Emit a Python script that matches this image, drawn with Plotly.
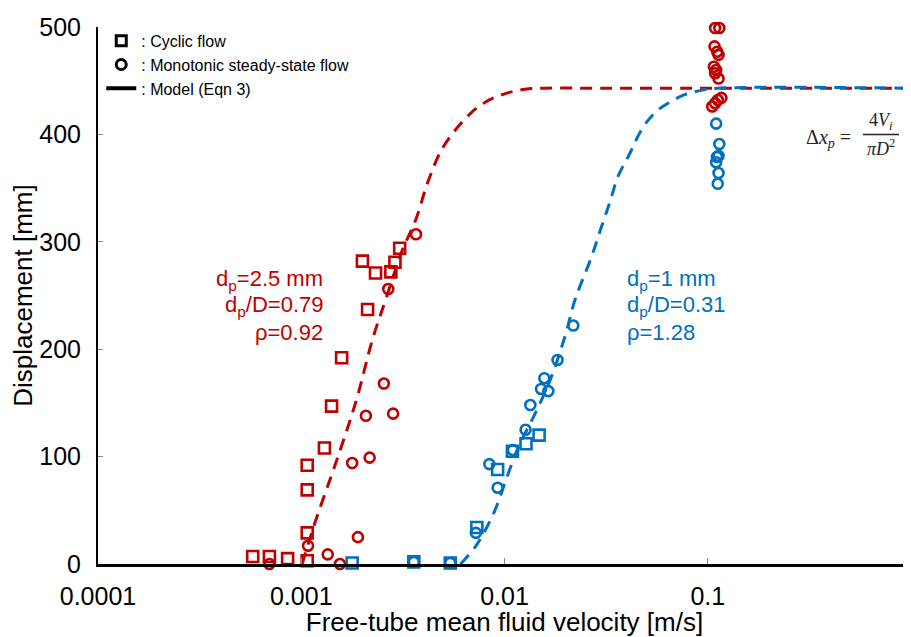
import plotly.graph_objects as go

RED = "#C00000"
BLUE = "#0070C0"

# ---- dp = 2.5 mm (red) ----
red_cyclic_x = [0.00200, 0.00305, 0.00289, 0.00232, 0.00276, 0.00212, 0.00158, 0.00141,
                0.00130, 0.00107, 0.00107, 0.00107, 0.00107, 0.000577, 0.000697, 0.000857]
red_cyclic_y = [282, 294, 281, 271, 272, 237, 192, 147, 108, 92, 69, 29, 3, 7, 7, 5]

red_mono_x = [0.00367, 0.00268, 0.00255, 0.00283, 0.00208, 0.00217, 0.00178, 0.00108,
              0.00190, 0.00135, 0.000697, 0.00155,
              0.1087, 0.1140, 0.1080, 0.1113, 0.1130, 0.1072, 0.1100, 0.1087, 0.1130,
              0.1167, 0.1121, 0.1087, 0.1052]
red_mono_y = [307, 256, 168, 140, 138, 99, 94, 17, 25, 9, 0, 0,
              499, 499, 482, 477, 474, 463, 460, 457, 452, 434, 432, 429, 426]

red_model_x = [0.00101, 0.00119, 0.00140, 0.001626, 0.00189, 0.00224, 0.00260, 0.00314,
               0.00365, 0.00424, 0.00502, 0.00667, 0.00804, 0.0101, 0.01264, 0.01585,
               0.03, 0.1, 1.0]
red_model_y = [0, 43, 81, 117, 156, 209, 246, 292, 320, 358, 389, 418, 430, 438, 442,
               443, 443, 443, 443]

red_labels = ["d<sub>p</sub>=2.5 mm", "d<sub>p</sub>/D=0.79", "ρ=0.92"]

# ---- dp = 1 mm (blue) ----
blue_cyclic_x = [0.0148, 0.01276, 0.01094, 0.00925, 0.00731, 0.00541, 0.00358, 0.00178]
blue_cyclic_y = [120, 112, 105, 88, 34, 1, 2, 1]

blue_mono_x = [0.0218, 0.01824, 0.0157, 0.01513, 0.01644, 0.0134, 0.0127, 0.0110, 0.00842,
               0.00925, 0.00723, 0.00541, 0.00358,
               0.110, 0.114, 0.113, 0.111, 0.110, 0.113, 0.112]
blue_mono_y = [222, 190, 173, 163, 161, 148, 125, 106, 93, 71, 29, 1, 2,
               410, 391, 380, 379, 374, 364, 354]

blue_model_x = [0.00608, 0.00718, 0.00883, 0.01047, 0.01172, 0.01414, 0.01675, 0.01985,
                0.02223, 0.0268, 0.030, 0.033, 0.0362, 0.0413, 0.0471, 0.0548, 0.0637,
                0.0769, 0.0927, 0.112, 1.0]
blue_model_y = [0, 16, 47, 85, 109, 140, 171, 212, 246, 286, 314, 337, 361, 382, 404, 420,
                429, 437, 441, 443, 443]

blue_labels = ["d<sub>p</sub>=1 mm", "d<sub>p</sub>/D=0.31", "ρ=1.28"]

legend_names = [": Cyclic flow", ": Monotonic steady-state flow", ": Model (Eqn 3)"]

x_tickvals = [0.0001, 0.001, 0.01, 0.1, 1]
x_ticktext = ["0.0001", "0.001", "0.01", "0.1", "1"]
y_tickvals = [0, 100, 200, 300, 400, 500]

FONT = "Liberation Sans, Arial, sans-serif"
SERIF = "Liberation Serif, serif"

fig = go.Figure()

dash = "12px,8px"
fig.add_trace(go.Scatter(x=red_model_x, y=red_model_y, mode="lines",
                         line=dict(color=RED, width=3, dash=dash, shape="spline"),
                         showlegend=False, hoverinfo="skip"))
fig.add_trace(go.Scatter(x=blue_model_x, y=blue_model_y, mode="lines",
                         line=dict(color=BLUE, width=3, dash=dash, shape="spline"),
                         showlegend=False, hoverinfo="skip"))

sq = dict(symbol="square-open", size=11, line=dict(width=2.6))
ci = dict(symbol="circle-open", size=10, line=dict(width=2.6))

fig.add_trace(go.Scatter(x=red_cyclic_x, y=red_cyclic_y, mode="markers",
                         marker=dict(color=RED, **sq), showlegend=False, cliponaxis=False))
fig.add_trace(go.Scatter(x=red_mono_x, y=red_mono_y, mode="markers",
                         marker=dict(color=RED, **ci), showlegend=False, cliponaxis=False))
fig.add_trace(go.Scatter(x=blue_cyclic_x, y=blue_cyclic_y, mode="markers",
                         marker=dict(color=BLUE, **sq), showlegend=False, cliponaxis=False))
fig.add_trace(go.Scatter(x=blue_mono_x, y=blue_mono_y, mode="markers",
                         marker=dict(color=BLUE, **ci), showlegend=False, cliponaxis=False))

# legend entries (black)
fig.add_trace(go.Scatter(x=[None], y=[None], mode="markers", name=legend_names[0],
                         marker=dict(color="black", symbol="square-open", size=10, line=dict(width=3))))
fig.add_trace(go.Scatter(x=[None], y=[None], mode="markers", name=legend_names[1],
                         marker=dict(color="black", symbol="circle-open", size=10, line=dict(width=3))))
fig.add_trace(go.Scatter(x=[None], y=[None], mode="lines", name=legend_names[2],
                         line=dict(color="black", width=4)))

# plot area: 813 x 537 px; helper to convert pixel offsets (from plot top-left) to paper
PW, PH = 813.0, 537.0
def px(xp):
    return xp / PW
def py(yp):
    return 1 - yp / PH

annos = []
for i, t in enumerate(red_labels):
    annos.append(dict(text=t, x=px(227), y=py(253 + 26 * i), xanchor="right", yanchor="middle",
                      font=dict(color=RED, size=22, family=FONT)))
for i, t in enumerate(blue_labels):
    annos.append(dict(text=t, x=px(527), y=py(253 + 26 * i), xanchor="left", yanchor="middle",
                      font=dict(color=BLUE, size=22, family=FONT)))
annos += [
    dict(text="Δ<i>x</i><sub><i>p</i></sub> =", x=px(706), y=py(111), xanchor="left", yanchor="middle",
         font=dict(color="#222", size=20, family=SERIF)),
    dict(text="4<i>V</i><sub><i>i</i></sub>", x=px(783), y=py(107), xanchor="center", yanchor="bottom",
         font=dict(color="#222", size=18, family=SERIF), borderpad=0),
    dict(text="<i>πD</i><sup>2</sup>", x=px(783), y=py(108), xanchor="center", yanchor="top",
         font=dict(color="#222", size=18, family=SERIF), borderpad=0),
]
for a in annos:
    a.update(xref="paper", yref="paper", showarrow=False)

fig.update_layout(
    width=903, height=629,
    margin=dict(l=90, r=0, t=19, b=73),
    paper_bgcolor="white", plot_bgcolor="white",
    font=dict(family=FONT, color="black"),
    annotations=annos,
    shapes=[dict(type="line", xref="paper", yref="paper", x0=px(765), x1=px(801),
                 y0=py(107.5), y1=py(107.5), line=dict(color="#222", width=1.5), layer="above")],
    legend=dict(x=0.004, y=1.006, xanchor="left", yanchor="top", bgcolor="rgba(0,0,0,0)",
                font=dict(size=16, family=FONT), itemwidth=30, tracegroupgap=0),
    xaxis=dict(type="log", range=[-4, 0], tickvals=x_tickvals, ticktext=x_ticktext,
               ticks="inside", ticklen=6, tickcolor="#888", tickwidth=1,
               showline=True, linecolor="black", linewidth=2.5, showgrid=False, zeroline=False,
               tickfont=dict(size=25), ticklabelstandoff=8,
               title=dict(text="Free-tube mean fluid velocity [m/s]", font=dict(size=26), standoff=4)),
    yaxis=dict(range=[0, 500], tickvals=y_tickvals, ticks="inside", ticklen=5, tickcolor="#888",
               showline=True, linecolor="black", linewidth=2, showgrid=False, zeroline=False,
               tickfont=dict(size=25), ticklabelstandoff=10,
               title=dict(text="Displacement [mm]", font=dict(size=26), standoff=4)),
)

fig.write_html("out.html")
